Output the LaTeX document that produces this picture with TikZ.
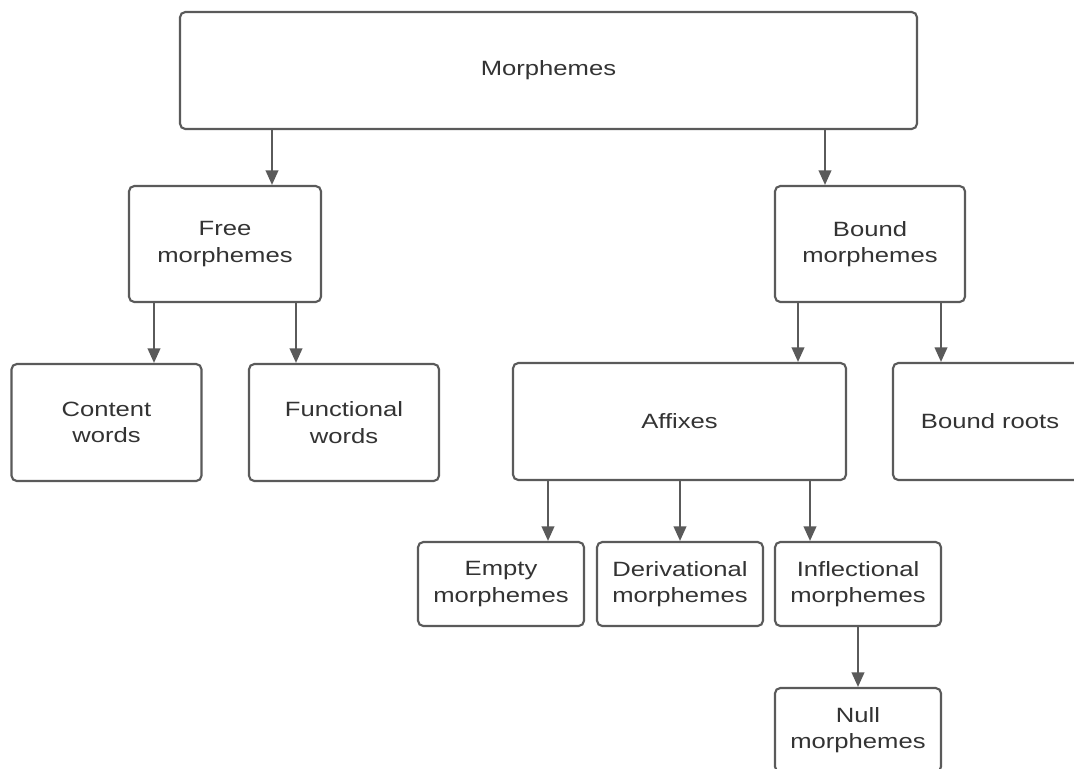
\documentclass[tikz,border=0pt]{standalone}
\usepackage{fontspec}
\setmainfont{Liberation Sans}[FakeStretch=1.24]
\usetikzlibrary{arrows.meta}
\definecolor{boxline}{HTML}{5A5A5A}
\definecolor{boxtext}{HTML}{333333}
\tikzset{
  box/.style={draw=boxline, line width=1.6pt, rounded corners=4pt, fill=white,
    inner sep=0pt, align=center, text=boxtext,
    font=\fontsize{15.5}{20}\selectfont},
  bigbox/.style={box, minimum height=87.75pt},
  smallbox/.style={box, minimum width=124.5pt, minimum height=63pt},
  arrow/.style={draw=boxline, line width=1.5pt,
    -{Triangle[length=11pt, width=9.5pt]}}
}
\begin{document}
\begin{tikzpicture}[x=0.75pt, y=-0.75pt]
      \clip (0,0) rectangle (1074,768);
      \fill[white] (0,0) rectangle (1074,768);
      %
      \node[bigbox, minimum width=552.75pt] (morph) at (548.5,70.5) {Morphemes}; % top row
      %
      \node[bigbox, minimum width=144pt, minimum height=87pt] (free) at (225,244) {Free\\morphemes}; % second row
      \node[bigbox, minimum width=142.5pt, minimum height=87pt] (bound) at (870,244) {Bound\\morphemes};
      %
      \node[bigbox, minimum width=142.5pt] (content) at (106.5,422.5) {Content\\words}; % third row
      \node[bigbox, minimum width=142.5pt] (func) at (344,422.5) {Functional\\words};
      \node[bigbox, minimum width=249.75pt] (affix) at (679.5,421.5) {Affixes};
      \node[bigbox, minimum width=145.5pt] (roots) at (990,421.5) {Bound roots};
      %
      \node[smallbox] (empty) at (501,584) {Empty\\morphemes}; % fourth row
      \node[smallbox] (deriv) at (680,584) {Derivational\\morphemes};
      \node[smallbox] (infl) at (858,584) {Inflectional\\morphemes};
      %
      \node[smallbox] (null) at (858,730) {Null\\morphemes}; % last row
      %
      \coordinate (s1) at (272,0); % arrow columns
      \coordinate (s2) at (825,0);
      \coordinate (s3) at (154,0);
      \coordinate (s4) at (296,0);
      \coordinate (s5) at (798,0);
      \coordinate (s6) at (941,0);
      \coordinate (s7) at (548,0);
      \coordinate (s8) at (680,0);
      \coordinate (s9) at (810,0);
      \coordinate (s10) at (858,0);
      %
      \draw[arrow] (morph.south -| s1) -- (free.north -| s1);
      \draw[arrow] (morph.south -| s2) -- (bound.north -| s2);
      \draw[arrow] (free.south -| s3) -- (content.north -| s3);
      \draw[arrow] (free.south -| s4) -- (func.north -| s4);
      \draw[arrow] (bound.south -| s5) -- (affix.north -| s5);
      \draw[arrow] (bound.south -| s6) -- (roots.north -| s6);
      \draw[arrow] (affix.south -| s7) -- (empty.north -| s7);
      \draw[arrow] (affix.south -| s8) -- (deriv.north -| s8);
      \draw[arrow] (affix.south -| s9) -- (infl.north -| s9);
      \draw[arrow] (infl.south -| s10) -- (null.north -| s10);
      %
    \end{tikzpicture}
\end{document}
